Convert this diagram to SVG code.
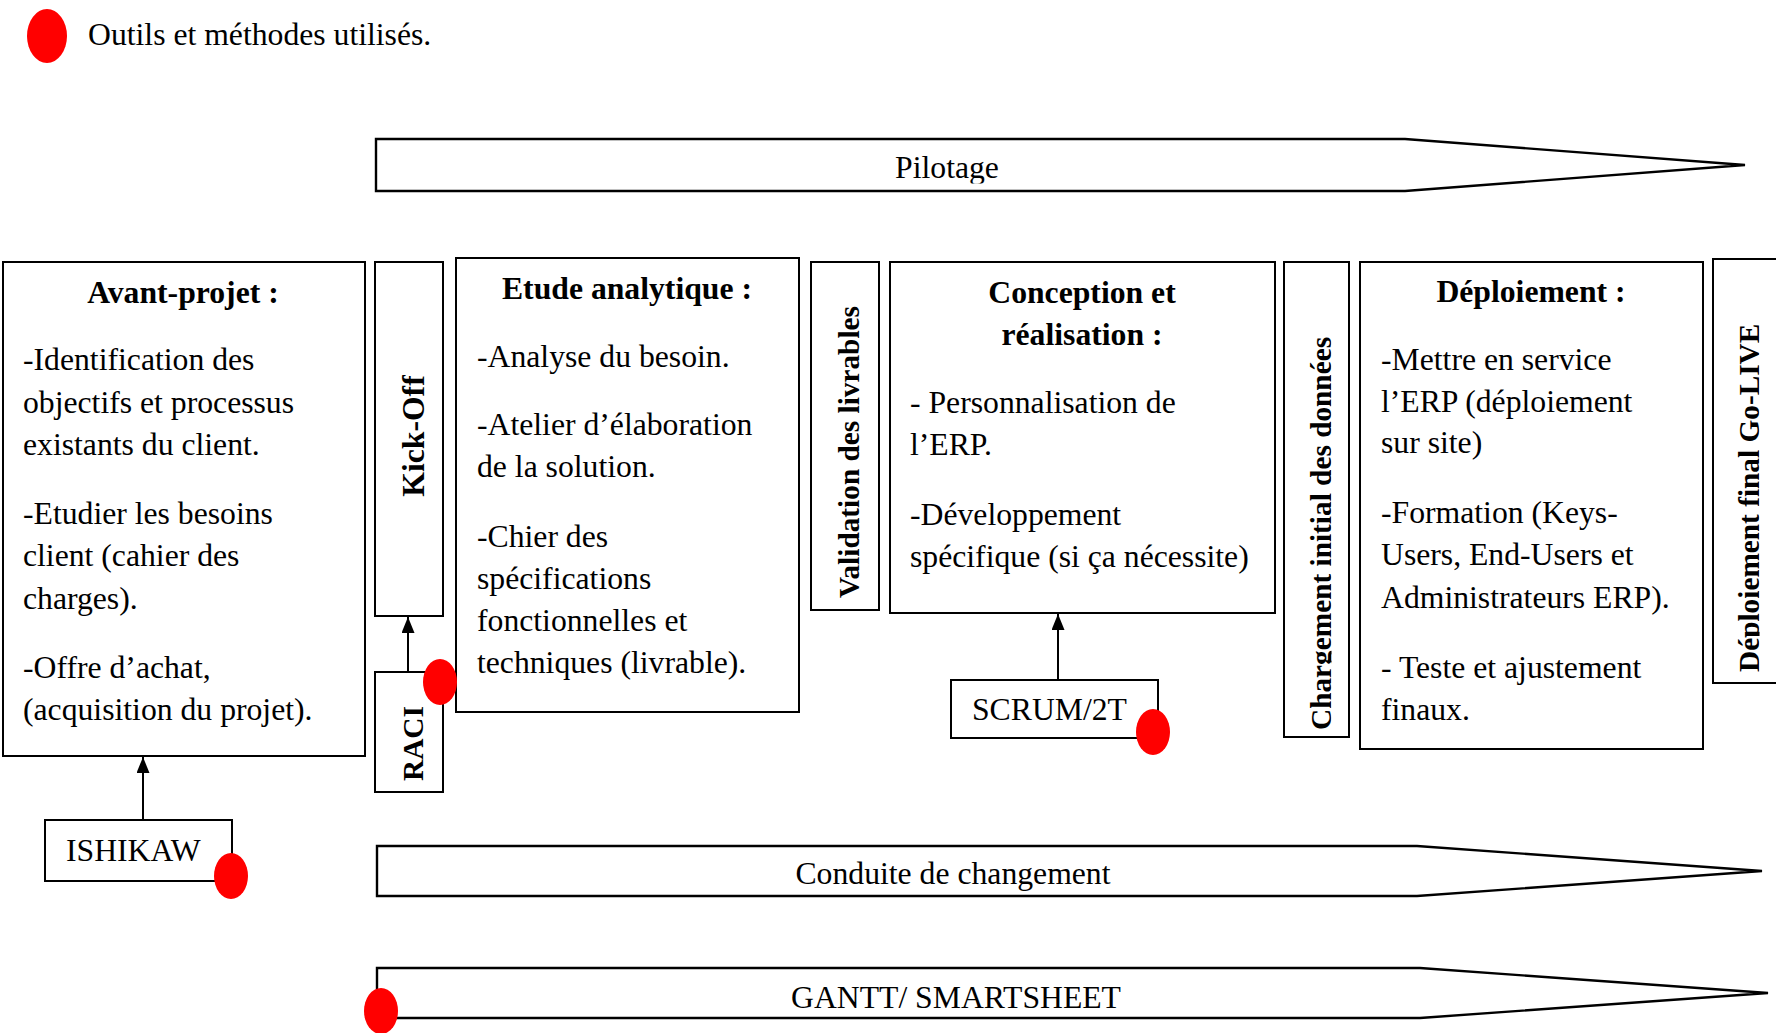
<svg xmlns="http://www.w3.org/2000/svg" width="1776" height="1033" viewBox="0 0 1776 1033">
  <style>
    .box { fill: #ffffff; stroke: #000000; stroke-width: 2; }
    .band { fill: #ffffff; stroke: #000000; stroke-width: 2.4; stroke-linejoin: miter; }
    .dot { fill: #ff0000; stroke: none; }
    .link { stroke: #000000; stroke-width: 2; fill: none; }
    text { font-family: "Liberation Serif", "Times New Roman", serif; fill: #000000; }
    .body { font-size: 31.7px; }
    .title { font-size: 31.7px; font-weight: bold; text-anchor: middle; }
    .vert { font-size: 29.3px; font-weight: bold; }
    .mid { text-anchor: middle; }
  </style>
  <defs>
    <marker id="head" viewBox="0 0 16 13" refX="16" refY="6.5" markerWidth="16" markerHeight="13" markerUnits="userSpaceOnUse" orient="auto">
      <path d="M0,0 L16,6.5 L0,13 Z" fill="#000000"/>
    </marker>
    <clipPath id="clipPilotage"><rect x="376" y="139" width="1370" height="44.5"/></clipPath>
    <clipPath id="clipCharg"><rect x="1284" y="262" width="47.5" height="476"/></clipPath>
    <clipPath id="clipGoLive"><rect x="1713" y="259" width="46.5" height="425"/></clipPath>
  </defs>

  <!-- legend -->
  <g id="legend">
    <ellipse class="dot" cx="47" cy="36" rx="20" ry="27"/>
    <text class="body" x="88" y="45">Outils et méthodes utilisés.</text>
  </g>

  <!-- horizontal process bands -->
  <g id="pilotage">
    <polygon class="band" points="376,139 1405,139 1745,165 1405,191 376,191"/>
    <text class="body mid" x="947" y="178" clip-path="url(#clipPilotage)">Pilotage</text>
  </g>

  <g id="conduite">
    <polygon class="band" points="377,846 1417,846 1762,871 1417,896 377,896"/>
    <text class="body mid" x="953" y="884">Conduite de changement</text>
  </g>

  <g id="gantt">
    <polygon class="band" points="377,968 1420,968 1768,993 1420,1018 377,1018"/>
    <text class="body mid" x="956" y="1008">GANTT/ SMARTSHEET</text>
    <ellipse class="dot" cx="381" cy="1011" rx="17" ry="23"/>
  </g>

  <!-- phase boxes -->
  <g id="avant-projet">
    <rect class="box" x="3" y="262" width="362" height="494"/>
    <text class="title" x="183" y="303">Avant-projet :</text>
    <text class="body" x="23" y="370">-Identification des</text>
    <text class="body" x="23" y="413">objectifs et processus</text>
    <text class="body" x="23" y="455">existants du client.</text>
    <text class="body" x="23" y="524">-Etudier les besoins</text>
    <text class="body" x="23" y="566">client (cahier des</text>
    <text class="body" x="23" y="609">charges).</text>
    <text class="body" x="23" y="678">-Offre d’achat,</text>
    <text class="body" x="23" y="720">(acquisition du projet).</text>
  </g>

  <g id="kick-off">
    <rect class="box" x="375" y="262" width="68" height="354"/>
    <text class="title" transform="translate(424,436) rotate(-90)">Kick-Off</text>
  </g>

  <g id="etude-analytique">
    <rect class="box" x="456" y="258" width="343" height="454"/>
    <text class="title" x="627" y="299">Etude analytique :</text>
    <text class="body" x="477" y="367">-Analyse du besoin.</text>
    <text class="body" x="477" y="435">-Atelier d’élaboration</text>
    <text class="body" x="477" y="477">de la solution.</text>
    <text class="body" x="477" y="547">-Chier des</text>
    <text class="body" x="477" y="589">spécifications</text>
    <text class="body" x="477" y="631">fonctionnelles et</text>
    <text class="body" x="477" y="673">techniques (livrable).</text>
  </g>

  <g id="validation">
    <rect class="box" x="811" y="262" width="68" height="348"/>
    <text class="vert" transform="translate(859,598) rotate(-90)">Validation des livrables</text>
  </g>

  <g id="conception">
    <rect class="box" x="890" y="262" width="385" height="351"/>
    <text class="title" x="1082" y="303">Conception et</text>
    <text class="title" x="1082" y="345">réalisation :</text>
    <text class="body" x="910" y="413">- Personnalisation de</text>
    <text class="body" x="910" y="455">l’ERP.</text>
    <text class="body" x="910" y="525">-Développement</text>
    <text class="body" x="910" y="567">spécifique (si ça nécessite)</text>
  </g>

  <g id="chargement">
    <rect class="box" x="1284" y="262" width="65" height="475"/>
    <g clip-path="url(#clipCharg)">
      <text class="vert" transform="translate(1331,730) rotate(-90)">Chargement initial des données</text>
    </g>
  </g>

  <g id="deploiement">
    <rect class="box" x="1360" y="262" width="343" height="487"/>
    <text class="title" x="1531" y="302">Déploiement :</text>
    <text class="body" x="1381" y="370">-Mettre en service</text>
    <text class="body" x="1381" y="412">l’ERP (déploiement</text>
    <text class="body" x="1381" y="453">sur site)</text>
    <text class="body" x="1381" y="523">-Formation (Keys-</text>
    <text class="body" x="1381" y="565">Users, End-Users et</text>
    <text class="body" x="1381" y="608">Administrateurs ERP).</text>
    <text class="body" x="1381" y="678">- Teste et ajustement</text>
    <text class="body" x="1381" y="720">finaux.</text>
  </g>

  <g id="go-live">
    <rect class="box" x="1713" y="259" width="70" height="424"/>
    <g clip-path="url(#clipGoLive)">
      <text class="vert" transform="translate(1759,672) rotate(-90)">Déploiement final Go-LIVE</text>
    </g>
  </g>

  <!-- tool boxes -->
  <g id="ishikaw">
    <rect class="box" x="45" y="820" width="187" height="61"/>
    <text class="body" x="66" y="861">ISHIKAW</text>
    <ellipse class="dot" cx="231" cy="876" rx="17" ry="23"/>
  </g>

  <g id="raci">
    <rect class="box" x="375" y="672" width="68" height="120"/>
    <text class="vert" transform="translate(423,781) rotate(-90)">RACI</text>
    <ellipse class="dot" cx="440" cy="682" rx="17" ry="23"/>
  </g>

  <g id="scrum">
    <rect class="box" x="951" y="680" width="207" height="58"/>
    <text class="body" x="972" y="720">SCRUM/2T</text>
    <ellipse class="dot" cx="1153" cy="732" rx="17" ry="23"/>
  </g>

  <!-- connectors: tools feeding their phase -->
  <g id="connectors">
    <line class="link" x1="143" y1="820" x2="143" y2="757" marker-end="url(#head)"/>
    <line class="link" x1="408" y1="672" x2="408" y2="617" marker-end="url(#head)"/>
    <line class="link" x1="1058" y1="680" x2="1058" y2="614" marker-end="url(#head)"/>
  </g>
</svg>
